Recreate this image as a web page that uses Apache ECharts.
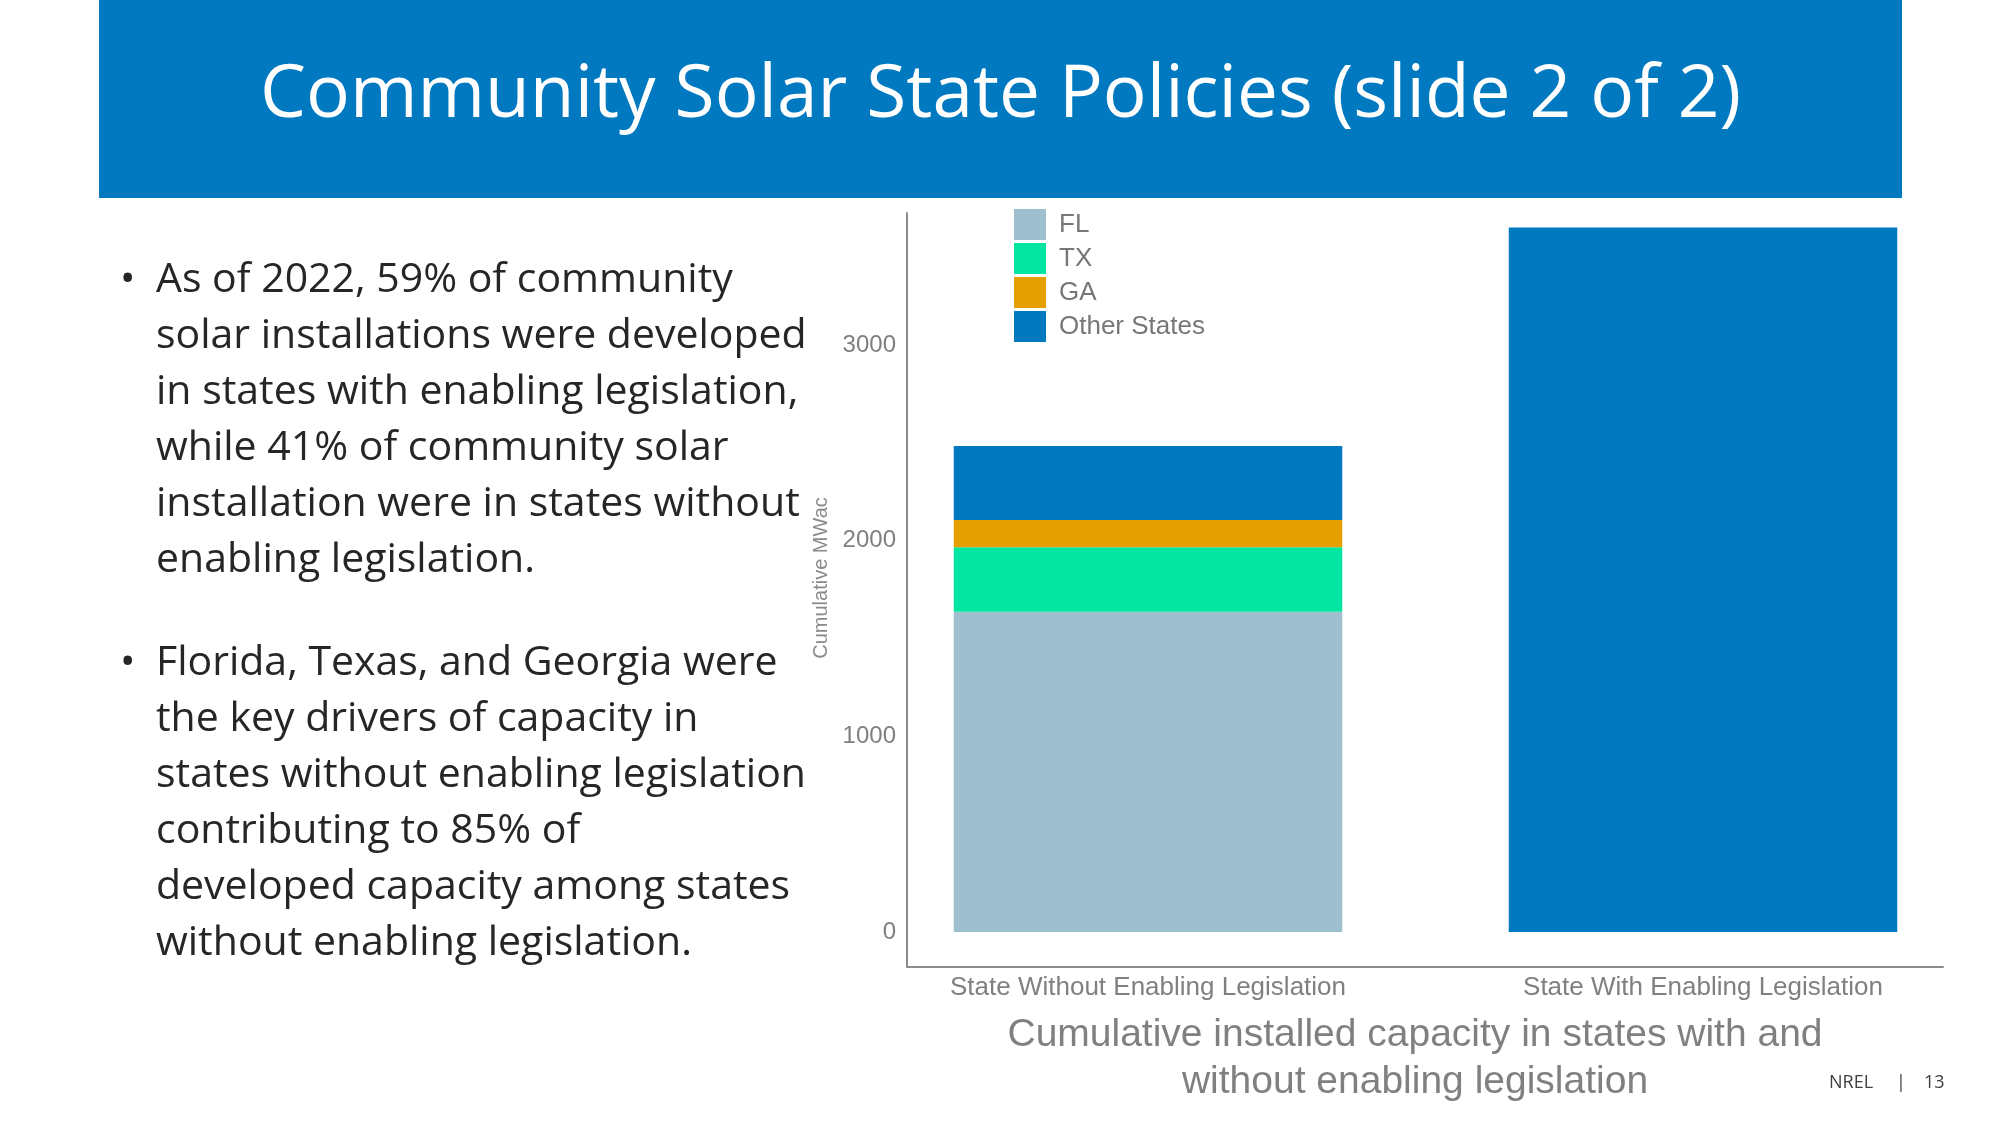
<!DOCTYPE html>
<html>
<head>
<meta charset="utf-8">
<script src="https://cdn.jsdelivr.net/npm/echarts@6/dist/echarts.min.js"></script>
<style>
  html, body { margin: 0; padding: 0; background: #ffffff; }
  #page { position: relative; width: 2000px; height: 1125px; overflow: hidden; background: #ffffff; }
  #chart { position: absolute; left: 0; top: 0; width: 2000px; height: 1125px; }
  #banner { position: absolute; left: 99px; top: 0; width: 1803px; height: 198px; background: #0079C1; }
  #title { position: absolute; left: 0; top: 52px; width: 1803px; text-align: center; color: #ffffff;
           font-family: "Open Sans", "Noto Sans", sans-serif; font-size: 73px; line-height: 73px; white-space: nowrap; }
  #textclip { position: absolute; left: 0; top: 0; width: 807px; height: 1125px; overflow: hidden; }
  .para { position: absolute; left: 156px; font-family: "Open Sans", "Noto Sans", sans-serif; font-size: 41px;
          line-height: 56px; color: #262626; white-space: nowrap; }
  .bullet { position: absolute; left: -36px; top: 0; }
  .foot { position: absolute; top: 1072px; font-family: "Open Sans", "Noto Sans", sans-serif; font-size: 18px;
          line-height: 18px; color: #404040; white-space: nowrap; }
</style>
</head>
<body>
<div id="page">
  <div id="chart"></div>
  <div id="banner"><div id="title">Community Solar State Policies (slide 2 of 2)</div></div>
  <div id="textclip">
    <div class="para" id="p1" style="top:248px"></div>
    <div class="para" id="p2" style="top:631px"></div>
  </div>
  <div class="foot" style="left:1829px">NREL</div>
  <div class="foot" style="left:1896px">|</div>
  <div class="foot" style="left:1924px">13</div>
</div>
<script>
// ---- Data ----
const categories = ['State Without Enabling Legislation', 'State With Enabling Legislation'];
const seriesNames = ['FL', 'TX', 'GA', 'Other States'];
const flValues = [1637, null];
const txValues = [329, null];
const gaValues = [140, null];
const otherValues = [378, 3601];
const yTickValues = [0, 1000, 2000, 3000];
const yAxisName = 'Cumulative MWac';
const captionLines = ['Cumulative installed capacity in states with and', 'without enabling legislation'];
const bullet1Lines = [
  'As of 2022, 59% of community',
  'solar installations were developed',
  'in states with enabling legislation,',
  'while 41% of community solar',
  'installation were in states without',
  'enabling legislation.'
];
const bullet2Lines = [
  'Florida, Texas, and Georgia were',
  'the key drivers of capacity in',
  'states without enabling legislation,',
  'contributing to 85% of',
  'developed capacity among states',
  'without enabling legislation.'
];

// ---- Slide text ----
function fillPara(id, lines) {
  const el = document.getElementById(id);
  const b = document.createElement('span');
  b.className = 'bullet';
  b.textContent = '\u2022';
  el.appendChild(b);
  lines.forEach(function (t) {
    const d = document.createElement('div');
    d.textContent = t;
    el.appendChild(d);
  });
}
fillPara('p1', bullet1Lines);
fillPara('p2', bullet2Lines);

// ---- Chart ----
const colors = { 'FL': '#9DBFCE', 'TX': '#03E6A1', 'GA': '#E69F00', 'Other States': '#0079C1' };
const valueSets = [flValues, txValues, gaValues, otherValues];
const fontFamily = '"Liberation Sans", Arial, Helvetica, sans-serif';
const yMin = -179, yMax = 3675;
const axisGray = '#8c8c8c';

const series = seriesNames.map(function (name, s) {
  return {
    name: name,
    type: 'bar',
    stack: 'total',
    xAxisIndex: 0,
    yAxisIndex: 0,
    barWidth: '70%',
    itemStyle: { color: colors[name] },
    data: valueSets[s]
  };
});

const chart = echarts.init(document.getElementById('chart'), null, { renderer: 'canvas' });
chart.setOption({
  animation: false,
  backgroundColor: 'transparent',
  textStyle: { fontFamily: fontFamily },
  title: {
    text: captionLines.join('\n'),
    left: 1410,
    top: 1007,
    textAlign: 'center',
    textStyle: { fontSize: 39, fontWeight: 'normal', color: '#808080', lineHeight: 47, fontFamily: fontFamily }
  },
  legend: {
    data: seriesNames,
    orient: 'vertical',
    left: 1014,
    top: 209,
    padding: 0,
    itemWidth: 32,
    itemHeight: 31,
    itemGap: 3,
    icon: 'rect',
    selectedMode: false,
    textStyle: { fontSize: 26, color: '#777777', padding: [0, 0, 0, 8], fontFamily: fontFamily }
  },
  grid: [
    { left: 870.5, top: 213, width: 1110, height: 754 },   // bars (category bands)
    { left: 907, top: 213, width: 1036, height: 754 }      // axis frame
  ],
  xAxis: [
    {
      gridIndex: 0,
      type: 'category',
      data: categories,
      axisLine: { show: false },
      axisTick: { show: false },
      splitLine: { show: false },
      axisLabel: { fontSize: 26, color: '#808080', margin: 8 }
    },
    {
      gridIndex: 1,
      type: 'value',
      min: 0,
      max: 1,
      axisLine: { show: true, onZero: false, lineStyle: { color: axisGray, width: 2 } },
      axisTick: { show: false },
      splitLine: { show: false },
      axisLabel: { show: false }
    }
  ],
  yAxis: [
    {
      gridIndex: 0,
      type: 'value',
      min: yMin,
      max: yMax,
      show: false,
      splitLine: { show: false }
    },
    {
      gridIndex: 1,
      type: 'value',
      min: yMin,
      max: yMax,
      name: yAxisName,
      nameLocation: 'middle',
      nameGap: 65,
      nameTextStyle: { fontSize: 20, color: '#8a8a8a', padding: [0, 0, 0, 24] },
      axisLine: { show: true, onZero: false, lineStyle: { color: axisGray, width: 2 } },
      axisTick: { show: false },
      splitLine: { show: false },
      axisLabel: {
        customValues: yTickValues,
        formatter: function (v) { return String(v); },
        fontSize: 24,
        color: '#7f7f7f',
        margin: 11
      }
    }
  ],
  series: series
});
</script>
</body>
</html>
